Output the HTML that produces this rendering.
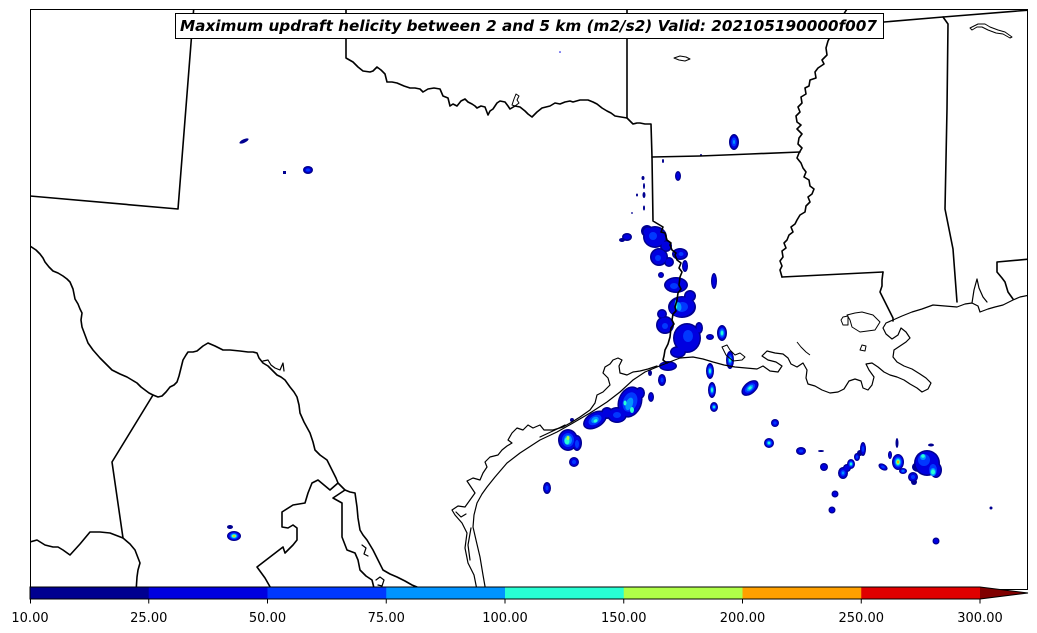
<!DOCTYPE html>
<html>
<head>
<meta charset="utf-8">
<style>
html,body{margin:0;padding:0;background:#fff;}
svg{display:block;}
.a{fill:#000090}.b{fill:#0000e0}.c{fill:#0038ff}.d{fill:#0094ff}.e{fill:#28ffd4}.f{fill:#b0ff48}.g{fill:#ffa000}
.st{fill:none;stroke:#000;stroke-width:1.6;stroke-linejoin:round;stroke-linecap:round}
.cs{fill:none;stroke:#000;stroke-width:1.2;stroke-linejoin:round;stroke-linecap:round}
.lk{fill:none;stroke:#000;stroke-width:1;stroke-linejoin:round}
</style>
</head>
<body>
<svg width="1037" height="633" viewBox="0 0 1037 633" xmlns="http://www.w3.org/2000/svg">
<rect width="1037" height="633" fill="#fff"/>
<defs><clipPath id="m"><rect x="30" y="9" width="998" height="580"/></clipPath></defs>
<g clip-path="url(#m)">
<!-- storms -->
<g transform="rotate(-25 244 141)"><ellipse class="a" cx="244" cy="141" rx="5" ry="1.8"/></g>
<rect class="a" x="283" y="171" width="3" height="3"/>
<ellipse class="a" cx="308" cy="170" rx="5" ry="4"/><ellipse class="b" cx="308" cy="170" rx="3.5" ry="2.5"/><ellipse class="c" cx="308" cy="170" rx="2" ry="1.5"/>
<circle class="b" cx="560" cy="52" r="0.8"/>
<ellipse class="a" cx="663" cy="161" rx="1" ry="2"/>
<ellipse class="a" cx="678" cy="176" rx="3" ry="5"/><ellipse class="b" cx="678" cy="176" rx="1.8" ry="3.5"/>
<ellipse class="a" cx="701" cy="155" rx="1" ry="1"/>
<ellipse class="a" cx="734" cy="142" rx="5" ry="8"/><ellipse class="b" cx="734" cy="142" rx="3.5" ry="6.5"/><ellipse class="c" cx="734" cy="142" rx="2.5" ry="4.5"/><ellipse class="d" cx="734" cy="142" rx="1" ry="2"/>
<ellipse class="a" cx="643" cy="178" rx="1.5" ry="2"/><ellipse class="a" cx="644" cy="186" rx="1" ry="3"/><ellipse class="a" cx="637" cy="195" rx="1" ry="1.5"/><ellipse class="a" cx="644" cy="195" rx="1.5" ry="3"/><ellipse class="a" cx="644" cy="208" rx="1" ry="2.5"/><ellipse class="a" cx="632" cy="213" rx="0.8" ry="1"/>
<ellipse class="a" cx="714" cy="281" rx="3" ry="8"/><ellipse class="b" cx="714" cy="281" rx="1.8" ry="6.5"/>
<!-- main Sabine cluster: navy layer -->
<ellipse class="a" cx="627" cy="237" rx="5" ry="4"/>
<ellipse class="a" cx="622" cy="240" rx="3" ry="2"/>
<ellipse class="a" cx="655" cy="237" rx="12" ry="11"/>
<ellipse class="a" cx="647" cy="231" rx="6" ry="6"/>
<ellipse class="a" cx="666" cy="246" rx="6" ry="6"/>
<ellipse class="a" cx="659" cy="257" rx="9" ry="9"/>
<ellipse class="a" cx="669" cy="262" rx="5" ry="5"/>
<ellipse class="a" cx="680" cy="254" rx="8" ry="6"/>
<ellipse class="a" cx="685" cy="266" rx="3" ry="6"/>
<ellipse class="a" cx="661" cy="275" rx="3" ry="3"/>
<ellipse class="a" cx="676" cy="285" rx="12" ry="8"/>
<ellipse class="a" cx="690" cy="296" rx="6" ry="6"/>
<ellipse class="a" cx="682" cy="307" rx="14" ry="11"/>
<ellipse class="a" cx="665" cy="325" rx="9" ry="9"/>
<ellipse class="a" cx="662" cy="314" rx="5" ry="5"/>
<ellipse class="a" cx="687" cy="338" rx="14" ry="15"/>
<ellipse class="a" cx="699" cy="328" rx="4" ry="6"/>
<ellipse class="a" cx="678" cy="352" rx="8" ry="6"/>
<ellipse class="a" cx="668" cy="366" rx="9" ry="5"/>
<!-- blue layer -->
<ellipse class="b" cx="627" cy="237" rx="3.5" ry="2.5"/>
<ellipse class="b" cx="655" cy="237" rx="10.5" ry="9.5"/>
<ellipse class="b" cx="648" cy="232" rx="4.5" ry="4.5"/>
<ellipse class="b" cx="666" cy="246" rx="4.5" ry="4.5"/>
<ellipse class="b" cx="659" cy="257" rx="7.5" ry="7.5"/>
<ellipse class="b" cx="669" cy="262" rx="3.5" ry="3.5"/>
<ellipse class="b" cx="680" cy="254" rx="6.5" ry="4.5"/>
<ellipse class="b" cx="685" cy="266" rx="1.8" ry="4.5"/>
<ellipse class="b" cx="661" cy="275" rx="1.8" ry="1.8"/>
<ellipse class="b" cx="676" cy="285" rx="10.5" ry="6.5"/>
<ellipse class="b" cx="690" cy="296" rx="4.5" ry="4.5"/>
<g transform="rotate(-10 682 307)"><ellipse class="b" cx="682" cy="307" rx="12.5" ry="9.5"/></g>
<ellipse class="b" cx="665" cy="325" rx="7.5" ry="7.5"/>
<ellipse class="b" cx="662" cy="314" rx="3.5" ry="3.5"/>
<ellipse class="b" cx="687" cy="338" rx="12.5" ry="13.5"/>
<ellipse class="b" cx="699" cy="328" rx="2.5" ry="4.5"/>
<ellipse class="b" cx="678" cy="352" rx="6.5" ry="4.5"/>
<ellipse class="b" cx="668" cy="366" rx="7.5" ry="3.5"/>
<!-- brighter patches -->
<ellipse class="c" cx="653" cy="236" rx="4" ry="4"/>
<ellipse class="c" cx="658" cy="258" rx="3" ry="3"/>
<ellipse class="c" cx="681" cy="254" rx="2.5" ry="2"/>
<ellipse class="c" cx="674" cy="286" rx="4" ry="3"/>
<g transform="rotate(-10 682 307)"><ellipse class="c" cx="682" cy="307" rx="6" ry="5"/><ellipse class="d" cx="679" cy="306" rx="2.5" ry="4.5"/></g>
<ellipse class="e" cx="676" cy="305" rx="1.3" ry="5"/>
<ellipse class="c" cx="665" cy="326" rx="3" ry="3"/>
<ellipse class="c" cx="688" cy="336" rx="5" ry="6"/>
<ellipse class="a" cx="650" cy="373" rx="2" ry="3"/>
<ellipse class="a" cx="662" cy="380" rx="4" ry="6"/><ellipse class="b" cx="662" cy="380" rx="2.8" ry="4.5"/><ellipse class="c" cx="662" cy="380" rx="1.5" ry="2.5"/>
<ellipse class="a" cx="651" cy="397" rx="3" ry="5"/><ellipse class="b" cx="651" cy="397" rx="1.8" ry="3.5"/>
<ellipse class="a" cx="710" cy="337" rx="4" ry="3"/><ellipse class="b" cx="710" cy="337" rx="2.5" ry="1.8"/>
<ellipse class="a" cx="722" cy="333" rx="5" ry="8"/><ellipse class="b" cx="722" cy="333" rx="3.8" ry="6.5"/><ellipse class="c" cx="722" cy="333" rx="3" ry="5"/><ellipse class="d" cx="722" cy="333" rx="2" ry="3.5"/><ellipse class="e" cx="722" cy="333" rx="1.2" ry="2"/>
<ellipse class="a" cx="730" cy="360" rx="4" ry="9"/><ellipse class="b" cx="730" cy="360" rx="3" ry="7.5"/><ellipse class="c" cx="730" cy="360" rx="2.3" ry="5.5"/><ellipse class="d" cx="730" cy="360" rx="1.6" ry="3.5"/><ellipse class="e" cx="730" cy="360" rx="1" ry="2"/>
<ellipse class="a" cx="710" cy="371" rx="4" ry="8"/><ellipse class="b" cx="710" cy="371" rx="3" ry="6.5"/><ellipse class="c" cx="710" cy="371" rx="2.3" ry="5"/><ellipse class="d" cx="710" cy="371" rx="1.6" ry="3.2"/><ellipse class="e" cx="710" cy="371" rx="1" ry="2"/>
<ellipse class="a" cx="712" cy="390" rx="4" ry="8"/><ellipse class="b" cx="712" cy="390" rx="3" ry="6.5"/><ellipse class="c" cx="712" cy="390" rx="2.3" ry="5"/><ellipse class="d" cx="712" cy="390" rx="1.6" ry="3.2"/><ellipse class="e" cx="712" cy="390" rx="1" ry="2"/>
<ellipse class="a" cx="714" cy="407" rx="4" ry="5"/><ellipse class="b" cx="714" cy="407" rx="3" ry="3.8"/><ellipse class="c" cx="714" cy="407" rx="2.2" ry="2.8"/><ellipse class="d" cx="714" cy="407" rx="1.5" ry="1.8"/><ellipse class="e" cx="714" cy="407" rx="0.9" ry="1"/>
<g transform="rotate(-40 750 388)"><ellipse class="a" cx="750" cy="388" rx="10" ry="6"/><ellipse class="b" cx="750" cy="388" rx="8.5" ry="4.8"/><ellipse class="c" cx="750" cy="388" rx="6" ry="3.5"/><ellipse class="d" cx="750" cy="388" rx="4" ry="2.3"/><ellipse class="e" cx="750" cy="388" rx="2" ry="1.3"/></g>
<ellipse class="a" cx="775" cy="423" rx="4" ry="4"/><ellipse class="b" cx="775" cy="423" rx="3" ry="3"/><ellipse class="c" cx="775" cy="423" rx="1.6" ry="1.6"/>
<ellipse class="a" cx="769" cy="443" rx="5" ry="5"/><ellipse class="b" cx="769" cy="443" rx="4" ry="4"/><ellipse class="c" cx="769" cy="443" rx="3" ry="3"/><ellipse class="d" cx="769" cy="443" rx="2" ry="2"/><ellipse class="e" cx="769" cy="443" rx="1.2" ry="1.2"/>
<ellipse class="a" cx="801" cy="451" rx="5" ry="4"/><ellipse class="b" cx="801" cy="451" rx="3.8" ry="2.8"/><ellipse class="c" cx="801" cy="451" rx="2" ry="1.5"/>
<ellipse class="a" cx="821" cy="451" rx="3" ry="1"/>
<ellipse class="a" cx="824" cy="467" rx="4" ry="4"/><ellipse class="b" cx="824" cy="467" rx="2.8" ry="2.8"/>
<!-- chain -->
<ellipse class="a" cx="843" cy="473" rx="5" ry="6"/><ellipse class="a" cx="847" cy="468" rx="4" ry="4"/><ellipse class="a" cx="851" cy="464" rx="4" ry="5"/><ellipse class="a" cx="857" cy="457" rx="3" ry="4"/><ellipse class="a" cx="860" cy="453" rx="3" ry="3"/><ellipse class="a" cx="863" cy="449" rx="3" ry="7"/>
<ellipse class="b" cx="843" cy="473" rx="3.8" ry="4.8"/><ellipse class="b" cx="847" cy="468" rx="2.8" ry="2.8"/><ellipse class="b" cx="851" cy="464" rx="3" ry="4"/><ellipse class="b" cx="857" cy="457" rx="2" ry="3"/><ellipse class="b" cx="863" cy="449" rx="2" ry="5.5"/>
<ellipse class="c" cx="843" cy="473" rx="2.5" ry="3"/><ellipse class="d" cx="843" cy="473" rx="1.2" ry="1.5"/>
<ellipse class="c" cx="851" cy="464" rx="2.3" ry="3"/><ellipse class="d" cx="851" cy="464" rx="1.6" ry="2"/><ellipse class="e" cx="851" cy="464" rx="1" ry="1.2"/>
<ellipse class="c" cx="857" cy="457" rx="1.2" ry="1.8"/><ellipse class="c" cx="863" cy="449" rx="1.2" ry="3"/>
<ellipse class="a" cx="835" cy="494" rx="3.5" ry="3.5"/><ellipse class="b" cx="835" cy="494" rx="2.3" ry="2.3"/>
<ellipse class="a" cx="832" cy="510" rx="3.5" ry="3.5"/><ellipse class="b" cx="832" cy="510" rx="2.3" ry="2.3"/>
<g transform="rotate(30 883 467)"><ellipse class="a" cx="883" cy="467" rx="5" ry="3"/><ellipse class="b" cx="883" cy="467" rx="3.8" ry="2"/><ellipse class="c" cx="883" cy="467" rx="2" ry="1.2"/></g>
<ellipse class="a" cx="890" cy="455" rx="2" ry="4"/><ellipse class="b" cx="890" cy="455" rx="1" ry="3"/>
<ellipse class="a" cx="897" cy="443" rx="1.5" ry="5"/>
<ellipse class="a" cx="903" cy="471" rx="4" ry="3"/><ellipse class="b" cx="903" cy="471" rx="3" ry="2.2"/><ellipse class="c" cx="903" cy="471" rx="2" ry="1.5"/><ellipse class="d" cx="903" cy="471" rx="1" ry="0.8"/>
<ellipse class="a" cx="913" cy="477" rx="5" ry="5"/><ellipse class="a" cx="914" cy="482" rx="3" ry="3"/><ellipse class="b" cx="913" cy="477" rx="3.8" ry="3.8"/><ellipse class="c" cx="913" cy="477" rx="2" ry="2"/>
<ellipse class="a" cx="898" cy="462" rx="6" ry="8"/><ellipse class="b" cx="898" cy="462" rx="5" ry="7"/><ellipse class="c" cx="898" cy="462" rx="4" ry="5.5"/><ellipse class="d" cx="898" cy="462" rx="3" ry="4"/><ellipse class="e" cx="898" cy="462" rx="2.2" ry="3"/><ellipse class="f" cx="898" cy="462" rx="1.5" ry="2"/><ellipse class="g" cx="898" cy="462" rx="0.9" ry="1.3"/>
<ellipse class="a" cx="927" cy="463" rx="13" ry="13"/><ellipse class="a" cx="936" cy="470" rx="6" ry="8"/><ellipse class="a" cx="918" cy="467" rx="6" ry="5"/>
<ellipse class="b" cx="927" cy="463" rx="11.5" ry="11.5"/><ellipse class="b" cx="936" cy="470" rx="4.5" ry="6.5"/>
<ellipse class="c" cx="924" cy="460" rx="6" ry="6"/><ellipse class="c" cx="933" cy="470" rx="4" ry="6"/>
<ellipse class="d" cx="923" cy="457" rx="3" ry="3"/><ellipse class="d" cx="933" cy="472" rx="3" ry="4"/><ellipse class="e" cx="923" cy="456" rx="1.8" ry="1.8"/><ellipse class="e" cx="933" cy="472" rx="2" ry="2.5"/>
<ellipse class="a" cx="931" cy="445" rx="3" ry="1.5"/>
<ellipse class="a" cx="936" cy="541" rx="3.5" ry="3.5"/><ellipse class="b" cx="936" cy="541" rx="2.3" ry="2.3"/>
<ellipse class="a" cx="991" cy="508" rx="1.5" ry="1.5"/>
<!-- coast cluster -->
<g transform="rotate(20 630 402)"><ellipse class="a" cx="630" cy="402" rx="12" ry="16"/></g>
<ellipse class="a" cx="617" cy="415" rx="10" ry="8"/>
<ellipse class="a" cx="607" cy="413" rx="6" ry="6"/>
<g transform="rotate(-30 595 420)"><ellipse class="a" cx="595" cy="420" rx="13" ry="8"/></g>
<ellipse class="a" cx="640" cy="393" rx="5" ry="6"/>
<g transform="rotate(20 630 402)"><ellipse class="b" cx="630" cy="402" rx="10.5" ry="14.5"/><ellipse class="c" cx="630" cy="402" rx="7" ry="10"/><ellipse class="d" cx="630" cy="404" rx="3.5" ry="6.5"/></g>
<ellipse class="b" cx="617" cy="415" rx="8.5" ry="6.5"/><ellipse class="b" cx="607" cy="413" rx="4.5" ry="4.5"/><ellipse class="b" cx="640" cy="393" rx="3.5" ry="4.5"/>
<ellipse class="c" cx="617" cy="415" rx="4" ry="3"/>
<ellipse class="e" cx="632" cy="410" rx="2" ry="3"/><ellipse class="e" cx="625" cy="403" rx="1.5" ry="2.5"/>
<g transform="rotate(-30 595 420)"><ellipse class="b" cx="595" cy="420" rx="11.5" ry="6.5"/><ellipse class="c" cx="595" cy="420" rx="7" ry="4.5"/><ellipse class="d" cx="595" cy="420" rx="4" ry="3"/><ellipse class="e" cx="595" cy="421" rx="2" ry="1.5"/></g>
<ellipse class="a" cx="568" cy="440" rx="10" ry="11"/><ellipse class="a" cx="577" cy="443" rx="5" ry="8"/>
<ellipse class="b" cx="568" cy="440" rx="8.5" ry="9.5"/><ellipse class="b" cx="577" cy="443" rx="3.5" ry="6.5"/>
<ellipse class="c" cx="568" cy="440" rx="6" ry="7"/><ellipse class="c" cx="577" cy="444" rx="2" ry="4"/><ellipse class="d" cx="568" cy="440" rx="4" ry="5"/><ellipse class="e" cx="567" cy="441" rx="2.5" ry="3.5"/><ellipse class="f" cx="568" cy="438" rx="1.5" ry="2"/>
<ellipse class="a" cx="574" cy="462" rx="5" ry="5"/><ellipse class="b" cx="574" cy="462" rx="3.8" ry="3.8"/><ellipse class="c" cx="574" cy="462" rx="2" ry="2"/>
<ellipse class="a" cx="547" cy="488" rx="4" ry="6"/><ellipse class="b" cx="547" cy="488" rx="2.8" ry="4.5"/><ellipse class="c" cx="547" cy="488" rx="1.5" ry="2.5"/>
<ellipse class="a" cx="572" cy="420" rx="2" ry="2"/>
<ellipse class="a" cx="234" cy="536" rx="7" ry="5"/><ellipse class="b" cx="234" cy="536" rx="5.8" ry="4"/><ellipse class="c" cx="234" cy="536" rx="4.5" ry="3.2"/><ellipse class="d" cx="234" cy="536" rx="3.3" ry="2.4"/><ellipse class="e" cx="234" cy="536" rx="2.4" ry="1.8"/><ellipse class="f" cx="234" cy="536" rx="1.6" ry="1.2"/><ellipse class="g" cx="234" cy="536" rx="0.9" ry="0.8"/>
<ellipse class="a" cx="230" cy="527" rx="3" ry="2"/>

<!-- state lines -->
<path class="st" d="M194,5 L178,209 L30,196"/>
<path class="st" d="M346,5 L346,58 L353,62 L358,67 L363,71 L370,72 L373,71 L377,67 L381,70 L385,74 L386,78 L387,82 L392,82 L397,83 L404,86 L410,88 L415,88 L420,89 L423,92 L428,89 L434,88 L440,89 L443,96 L448,98 L450,106 L453,104 L457,106 L461,101 L465,99 L468,102 L472,104 L475,106 L477,108 L481,106 L485,107 L488,115 L490,111 L493,109 L497,103 L500,101 L505,102 L508,106 L510,109 L515,106 L520,107 L525,111 L528,114 L532,117 L535,114 L537,112 L542,108 L546,107 L550,106 L555,103 L560,104 L565,102 L570,101 L573,102 L580,100 L588,100 L593,102 L597,104 L602,108 L607,111 L611,113 L615,116 L621,117 L627,118 L630,121 L633,124 L637,123 L640,123 L645,124 L651,124 L652,157 L653,221 L658,224 L663,227 L661,232 L665,233 L667,240 L671,243 L670,245 L672,250 L676,253 L675,255 L677,260 L681,263 L679,268 L682,272 L680,277 L679,285 L681,289 L678,293 L677,300 L675,307 L676,311 L673,314 L672,320 L674,324 L671,328 L670,337 L668,344 L665,350 L664,356 L663,360 L667,363"/>
<path class="st" d="M627,5 L627,118"/>
<path class="st" d="M652,157 L700,156 L750,154 L800,152"/>
<path class="st" d="M884,22 L943,17 L1030,10"/>
<path class="st" d="M847,9 L840,20 L832,33 L828,41 L826,48 L827,55 L822,60 L824,64 L818,68 L815,72 L816,78 L810,80 L809,86 L805,88 L806,94 L801,97 L802,103 L798,107 L800,112 L796,116 L797,122 L801,125 L797,129 L802,134 L799,138 L798,144 L802,148 L799,153 L797,158 L801,163 L803,168 L806,172 L804,177 L809,180 L810,186 L814,189 L812,194 L808,197 L810,202 L806,206 L805,212 L800,215 L797,220 L795,224 L791,227 L793,232 L789,235 L787,240 L784,243 L786,248 L782,251 L783,257 L780,261 L782,266 L780,270 L782,277"/>
<path class="st" d="M782,277 L883,272"/>
<path class="st" d="M883,272 L882,280 L882,286 L880,292 L883,298 L885,302 L888,308 L890,312 L893,318 L893,321"/>
<path class="st" d="M943,17 L948,24 L947,109 L945,209 L953,249 L957,302"/>
<path class="st" d="M1030,259 L997,262 L997,272 L1002,278 L1005,282 L1008,292 L1013,299"/>

<!-- Mexico -->
<path class="st" d="M30,246 L36,250 L40,254 L43,258 L45,262 L49,267 L53,271 L58,273 L63,276 L67,279 L70,282 L73,289 L74,294 L75,299 L78,304 L80,309 L82,313 L81,320 L82,327 L85,335 L88,343 L93,350 L100,358 L106,364 L112,370 L120,374 L127,377 L132,380 L137,383 L141,387 L145,390 L149,393 L153,395 L158,397 L162,396 L166,392 L170,387 L174,385 L177,382 L179,376 L181,368 L183,360 L186,355 L188,352 L193,352 L197,351 L203,346 L208,343 L215,346 L223,350 L230,350 L240,351 L248,352 L253,352 L257,353 L259,358 L263,363 L268,366 L272,370 L277,375 L281,377 L285,380 L290,387 L294,392 L297,397 L299,405 L300,413 L304,422 L310,433 L313,442 L315,450 L320,455 L327,460 L330,466 L333,472 L336,478 L338,483 L342,487 L345,490 L350,492 L355,493 L356,500 L357,507 L358,518 L360,530 L363,535 L367,540 L370,545 L373,550 L378,560 L383,570 L390,574 L397,577 L405,581 L412,585 L417,587 L422,592"/>
<path class="cs" d="M263,361 L268,360 L271,365 L275,368 L280,370 L283,363 L284,371"/>
<path class="st" d="M153,395 L112,462 L123,538"/>
<path class="st" d="M30,542 L37,540 L45,545 L53,547 L58,547 L63,550 L70,555 L80,544 L90,532 L100,532 L110,533 L123,538 L130,544 L135,550 L140,563 L138,570 L137,577 L136,592"/>
<path class="st" d="M338,483 L330,490 L318,480 L312,483 L308,493 L305,503 L293,505 L282,512 L282,527 L288,528 L293,525 L297,528 L297,540 L293,545 L285,553 L283,547 L270,557 L257,567 L265,578 L273,592"/>
<path class="st" d="M345,490 L333,498 L342,503 L342,520 L342,537 L347,550 L355,553 L358,560 L360,570 L366,576 L372,580 L375,592"/>
<path class="cs" d="M362,545 L366,548 L364,554 L368,556 M376,580 L380,577 L384,580 L382,586 L378,585"/>

<!-- coasts -->
<path class="cs" d="M486,592 L483,575 L480,557 L476,540 L473,527 L474,515 L477,503 L482,494 L487,487 L495,477 L507,463 L520,453 L540,440 L557,432 L573,423 L590,413 L607,402 L620,392 L633,380 L645,372 L657,367 L667,363 L680,358 L693,357 L703,359 L713,362 L724,365 L735,367 L757,369 L763,366 L770,371 L778,372 L782,366 L776,362 L768,360 L762,356 L767,351 L775,353 L783,354 L788,358 L791,364 L797,367 L803,363 L807,370 L806,378 L808,384 L815,386 L822,390 L830,393 L838,392 L844,389 L849,381 L855,379 L861,381 L863,388 L868,390 L872,385 L874,377 L869,370 L866,364 L872,363 L878,367 L884,372 L890,375 L897,377 L904,380 L910,384 L917,388 L922,392 L928,389 L931,383 L926,378 L920,374 L912,369 L904,366 L897,362 L893,357 L894,350 L900,346 L906,342 L910,338 L906,332 L901,328 L898,335 L892,339 L886,334 L883,328 L886,323 L893,320 L902,316 L912,312 L922,309 L933,305 L945,306 L957,307 L965,304 L972,303 L978,306 L980,312 L988,309 L995,307 L1003,305 L1013,300 L1020,297 L1030,295"/>
<path class="cs" d="M477,590 L474,575 L468,563 L465,548 L467,533 L462,523 L455,515 L452,510 L458,506 L465,507 L470,500 L475,493 L471,487 L467,481 L473,478 L480,480 L483,473 L487,467 L485,462 L490,457 L498,455 L502,450 L507,446 L512,443 L508,440 L512,433 L517,428 L523,430 L528,425 L533,428 L540,425 L544,430 L553,430 L563,427 L572,422 L580,417 L590,410 L595,403 L597,395 L603,392 L610,385 L608,378 L603,373 L605,367 L610,364 L613,360 L618,358 L622,360 L619,366 L620,373 L627,375 L633,372 L640,371 L648,369 L657,366"/>
<path class="cs" d="M540,437 L555,430 L565,425 M456,512 L461,517 L466,514 M470,560 L468,545 L471,528"/>
<path class="cs" d="M972,303 L974,290 L977,279 L979,288 L983,297 L987,302"/>
<path class="lk" d="M847,315 L855,313 L862,312 L873,315 L880,322 L875,330 L860,332 L852,327 L850,320 Z"/>
<path class="lk" d="M841,320 L843,317 L848,316 L848,325 L843,325 Z"/>
<path class="lk" d="M862,345 L866,346 L865,351 L860,350 Z"/>
<path class="lk" d="M722,347 L727,345 L730,350 L735,355 L740,353 L745,357 L742,360 L733,361 L726,355 Z"/>
<path class="lk" d="M797,342 L801,347 L806,352 L810,355"/>
<path class="lk" d="M970,28 L978,24 L985,24 L990,27 L998,30 L1005,32 L1012,37 L1010,38 L1003,34 L996,33 L988,30 L982,27 L977,27 L972,30 Z"/>
<path class="lk" d="M512,105 L514,99 L516,94 L519,96 L517,100 L519,103 L515,106 Z"/>
<path class="lk" d="M674,58 L680,56 L686,57 L690,59 L685,61 L679,60 Z"/>
</g>
<!-- frame -->
<rect x="30.5" y="9.5" width="997" height="580" fill="none" stroke="#000" stroke-width="1"/>
<!-- title -->
<rect x="175.5" y="13.5" width="708" height="25" fill="#fff" stroke="#000" stroke-width="1"/>
<text x="180" y="31" font-family="DejaVu Sans, Liberation Sans, sans-serif" font-size="15" font-weight="bold" font-style="italic" textLength="697" lengthAdjust="spacingAndGlyphs">Maximum updraft helicity between 2 and 5 km (m2/s2) Valid: 202105190000f007</text>
<!-- colorbar -->
<rect x="30" y="587" width="119" height="12" fill="#000090"/>
<rect x="148.75" y="587" width="119" height="12" fill="#0000e0"/>
<rect x="267.5" y="587" width="119" height="12" fill="#0038ff"/>
<rect x="386.25" y="587" width="119" height="12" fill="#0094ff"/>
<rect x="505" y="587" width="119" height="12" fill="#28ffd4"/>
<rect x="623.75" y="587" width="119" height="12" fill="#b0ff48"/>
<rect x="742.5" y="587" width="119" height="12" fill="#ffa000"/>
<rect x="861.25" y="587" width="118.75" height="12" fill="#e00000"/>
<polygon points="980,587 1028,593 980,599" fill="#800000"/>
<polygon points="30,587 980,587 1028,593 980,599 30,599" fill="none" stroke="#000" stroke-width="1"/>
<g stroke="#000" stroke-width="1">
<line x1="30.5" y1="599" x2="30.5" y2="603.5"/>
<line x1="148.75" y1="599" x2="148.75" y2="603.5"/>
<line x1="267.5" y1="599" x2="267.5" y2="603.5"/>
<line x1="386.25" y1="599" x2="386.25" y2="603.5"/>
<line x1="505" y1="599" x2="505" y2="603.5"/>
<line x1="623.75" y1="599" x2="623.75" y2="603.5"/>
<line x1="742.5" y1="599" x2="742.5" y2="603.5"/>
<line x1="861.25" y1="599" x2="861.25" y2="603.5"/>
<line x1="980" y1="599" x2="980" y2="603.5"/>
</g>
<g font-family="DejaVu Sans, Liberation Sans, sans-serif" font-size="13" text-anchor="middle" fill="#000">
<text x="30" y="622">10.00</text>
<text x="148.75" y="622">25.00</text>
<text x="267.5" y="622">50.00</text>
<text x="386.25" y="622">75.00</text>
<text x="505" y="622">100.00</text>
<text x="623.75" y="622">150.00</text>
<text x="742.5" y="622">200.00</text>
<text x="861.25" y="622">250.00</text>
<text x="980" y="622">300.00</text>
</g>
</svg>
</body>
</html>
